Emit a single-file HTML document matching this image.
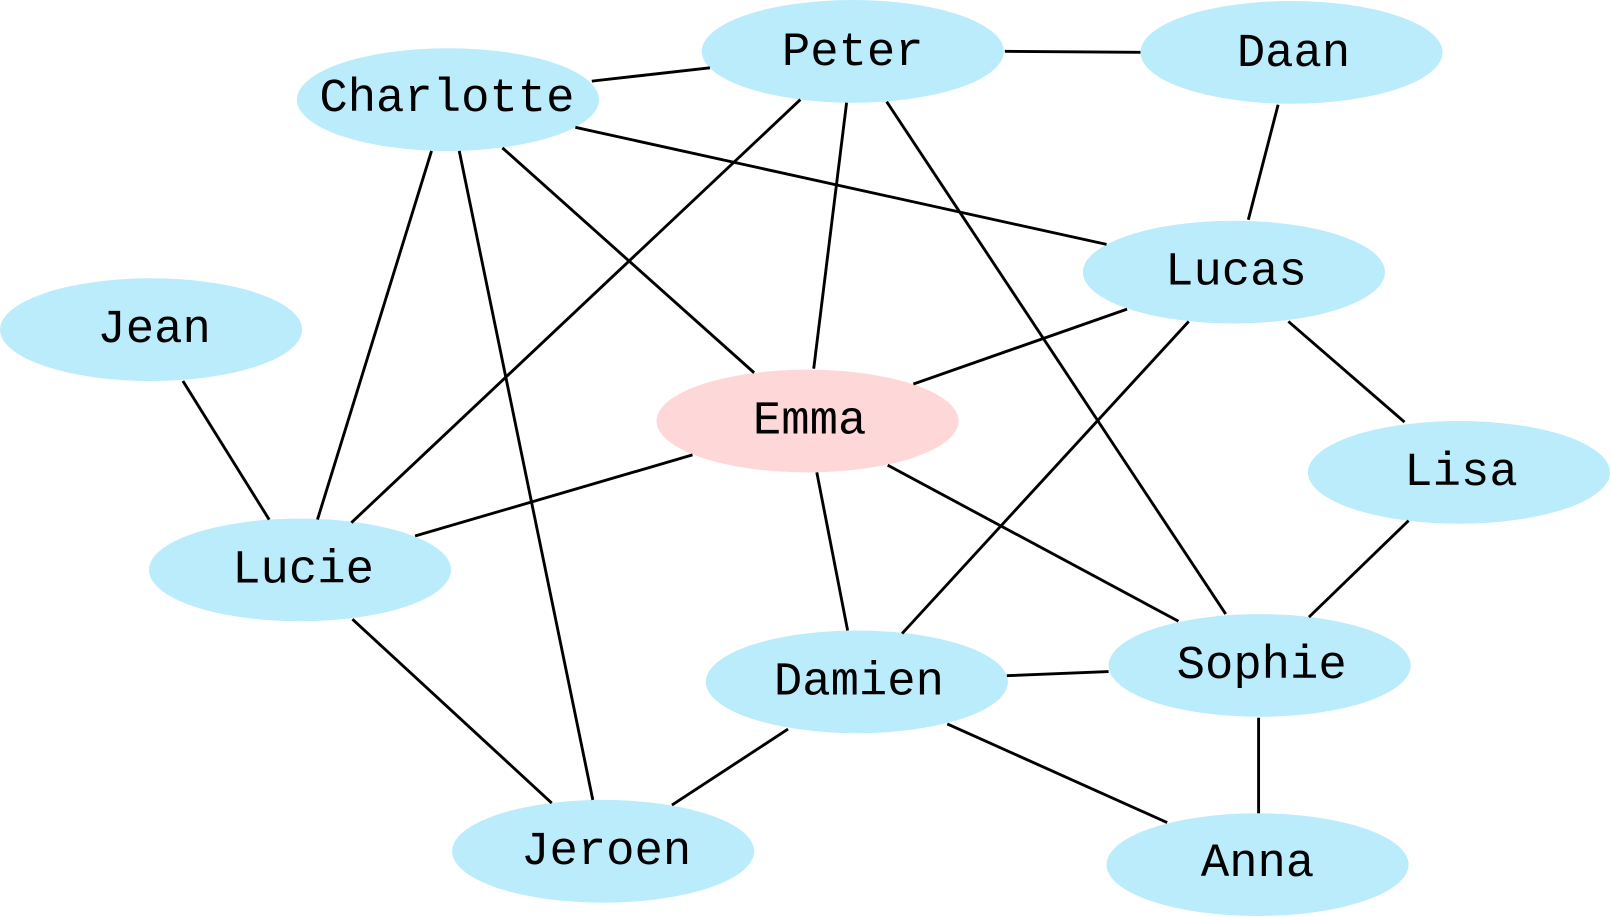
<!DOCTYPE html>
<html><head><style>html,body{margin:0;padding:0;background:#fff}svg{display:block}</style></head>
<body>
<svg width="1611" height="917" viewBox="0 0 1568 893" preserveAspectRatio="none" xmlns="http://www.w3.org/2000/svg">
<g fill="#baecfc">
<ellipse cx="830" cy="50" rx="147" ry="50"/>
<ellipse cx="1257" cy="51" rx="147" ry="50"/>
<ellipse cx="436" cy="97" rx="147" ry="50"/>
<ellipse cx="147" cy="321" rx="147" ry="50"/>
<ellipse cx="1201" cy="265" rx="147" ry="50"/>
<ellipse cx="786" cy="410" rx="147" ry="50" fill="#fed8d8"/>
<ellipse cx="1420" cy="460" rx="147" ry="50"/>
<ellipse cx="292" cy="555" rx="147" ry="50"/>
<ellipse cx="834" cy="664" rx="147" ry="50"/>
<ellipse cx="1226" cy="648" rx="147" ry="50"/>
<ellipse cx="587" cy="829" rx="147" ry="50"/>
<ellipse cx="1224" cy="842" rx="147" ry="50"/>
</g>
<g stroke="#000" stroke-width="2.8" fill="none">
<line x1="576" y1="79" x2="691" y2="66"/>
<line x1="978" y1="50" x2="1110" y2="51"/>
<line x1="560" y1="124" x2="1077" y2="238"/>
<line x1="420" y1="147" x2="309" y2="506"/>
<line x1="447" y1="147" x2="577" y2="779"/>
<line x1="489" y1="144" x2="734" y2="363"/>
<line x1="779" y1="97" x2="342" y2="509"/>
<line x1="824" y1="100" x2="792" y2="359"/>
<line x1="863" y1="99" x2="1193" y2="598"/>
<line x1="1244" y1="102" x2="1215" y2="214"/>
<line x1="1097" y1="301" x2="889" y2="374"/>
<line x1="1157" y1="313" x2="878" y2="617"/>
<line x1="1254" y1="313" x2="1367" y2="411"/>
<line x1="178" y1="371" x2="262" y2="506"/>
<line x1="674" y1="443" x2="404" y2="522"/>
<line x1="795" y1="460" x2="825" y2="614"/>
<line x1="864" y1="453" x2="1147" y2="605"/>
<line x1="1371" y1="507" x2="1274" y2="601"/>
<line x1="980" y1="658" x2="1079" y2="654"/>
<line x1="1225" y1="699" x2="1225" y2="792"/>
<line x1="922" y1="705" x2="1136" y2="801"/>
<line x1="767" y1="710" x2="654" y2="784"/>
<line x1="343" y1="603" x2="537" y2="782"/>
</g>
<g font-family="Liberation Mono, monospace" font-size="46" fill="#000" text-anchor="middle" dominant-baseline="central">
<text x="830" y="52">Peter</text>
<text x="1259" y="53">Daan</text>
<text x="435" y="97">Charlotte</text>
<text x="150" y="322">Jean</text>
<text x="1203" y="266">Lucas</text>
<text x="788" y="411">Emma</text>
<text x="1422" y="461">Lisa</text>
<text x="295" y="556">Lucie</text>
<text x="836" y="665">Damien</text>
<text x="1228" y="649">Sophie</text>
<text x="590" y="830">Jeroen</text>
<text x="1224" y="842">Anna</text>
</g>
</svg>
</body></html>
